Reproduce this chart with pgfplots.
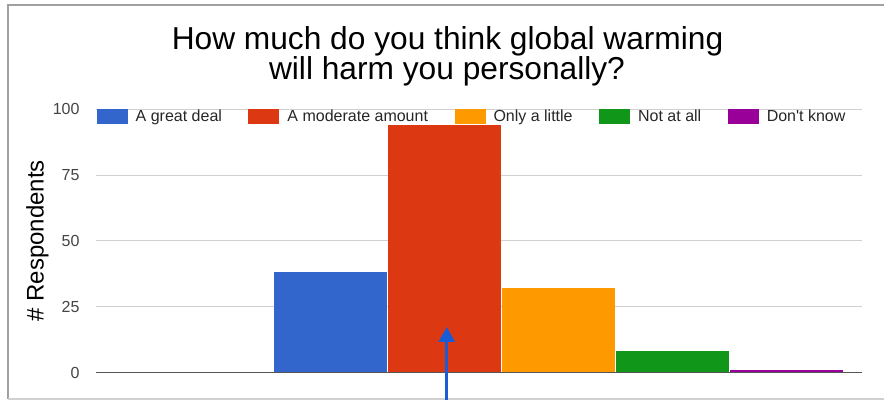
\documentclass[border=0pt]{standalone}
\usepackage{pgfplots}
\pgfplotsset{compat=1.18}
\usepackage{fontspec}
\setmainfont{Liberation Sans}
\usetikzlibrary{arrows.meta}
\definecolor{gblue}{HTML}{3366CC}
\definecolor{gred}{HTML}{DC3912}
\definecolor{gorange}{HTML}{FF9900}
\definecolor{ggreen}{HTML}{109618}
\definecolor{gpurple}{HTML}{990099}
\definecolor{gridgray}{HTML}{D0D0D0}
\definecolor{axisgray}{HTML}{555555}
\definecolor{tickgray}{HTML}{444444}
\definecolor{framegray}{HTML}{A0A0A0}
\definecolor{arrowblue}{HTML}{1A5CD6}

\pgfplotsset{
  gbar/.style={ybar, bar width=0.985, bar shift=0pt, draw=none, fill=#1,
    legend image code/.code={\fill[fill=#1] (0pt,-7.5pt) rectangle (31pt,7.5pt);}},
}

\begin{document}
\begin{tikzpicture}
\path[use as bounding box] (-95.7pt,-27.5pt) rectangle (788.3pt,372.5pt);
% outer frame
\draw[framegray, line width=1.5pt] (790pt,367.5pt) -- (-87.7pt,367.5pt) -- (-87.7pt,-26.5pt);
\draw[gridgray, line width=1.2pt] (-87.7pt,-26.5pt) -- (790pt,-26.5pt);

\begin{axis}[
  at={(0pt,0pt)}, anchor=south west,
  scale only axis, width=766pt, height=263.2pt,
  xmin=-1.06, xmax=5.66, ymin=0, ymax=100,
  ytick={0,25,50,75,100}, xtick=\empty,
  ymajorgrids, grid style={draw=gridgray, line width=1pt},
  axis line style={draw=none},
  major tick length=0pt,
  yticklabel style={font=\fontsize{16}{16}\selectfont, text=tickgray, inner sep=0pt, xshift=-16pt},
  /pgf/number format/assume math mode=true,
  ylabel={\# Respondents},
  ylabel style={font=\fontsize{24}{24}\selectfont, at={(axis description cs:-0.076,0.5)}, anchor=center, inner sep=0pt},
  legend columns=-1,
  legend cell align=left,
  legend style={at={(rel axis cs:0,1)}, anchor=north west, xshift=1pt,
    draw=none, fill=none, inner sep=0pt, outer sep=0pt,
    font=\fontsize{16}{16}\selectfont, text=black!85,
    nodes={inner sep=0pt},
    /tikz/every odd column/.append style={column sep=8pt},
    /tikz/every even column/.append style={column sep=26.5pt}},
  clip=false,
]
\addplot[gbar=gblue]   coordinates {(1,38)};
\addplot[gbar=gred]    coordinates {(2,94)};
\addplot[gbar=gorange] coordinates {(3,32)};
\addplot[gbar=ggreen]  coordinates {(4,8)};
\addplot[gbar=gpurple] coordinates {(5,1)};
\legend{A great deal, A moderate amount, Only a little, Not at all, Don\textquotesingle t know}
\draw[axisgray, line width=1.6pt] (rel axis cs:0,0) -- (rel axis cs:1,0);
\draw[arrowblue, line width=3pt, -{Triangle[width=16pt,length=15pt]}] (axis cs:2.02,-10.5) -- (axis cs:2.02,17.3);
\end{axis}

\node[anchor=base, font=\fontsize{31.7}{31.7}\selectfont] at (351.8pt,322.5pt) {How much do you think global warming};
\node[anchor=base, font=\fontsize{31.7}{31.7}\selectfont] at (351.3pt,292.5pt) {will harm you personally?};
\end{tikzpicture}
\end{document}
